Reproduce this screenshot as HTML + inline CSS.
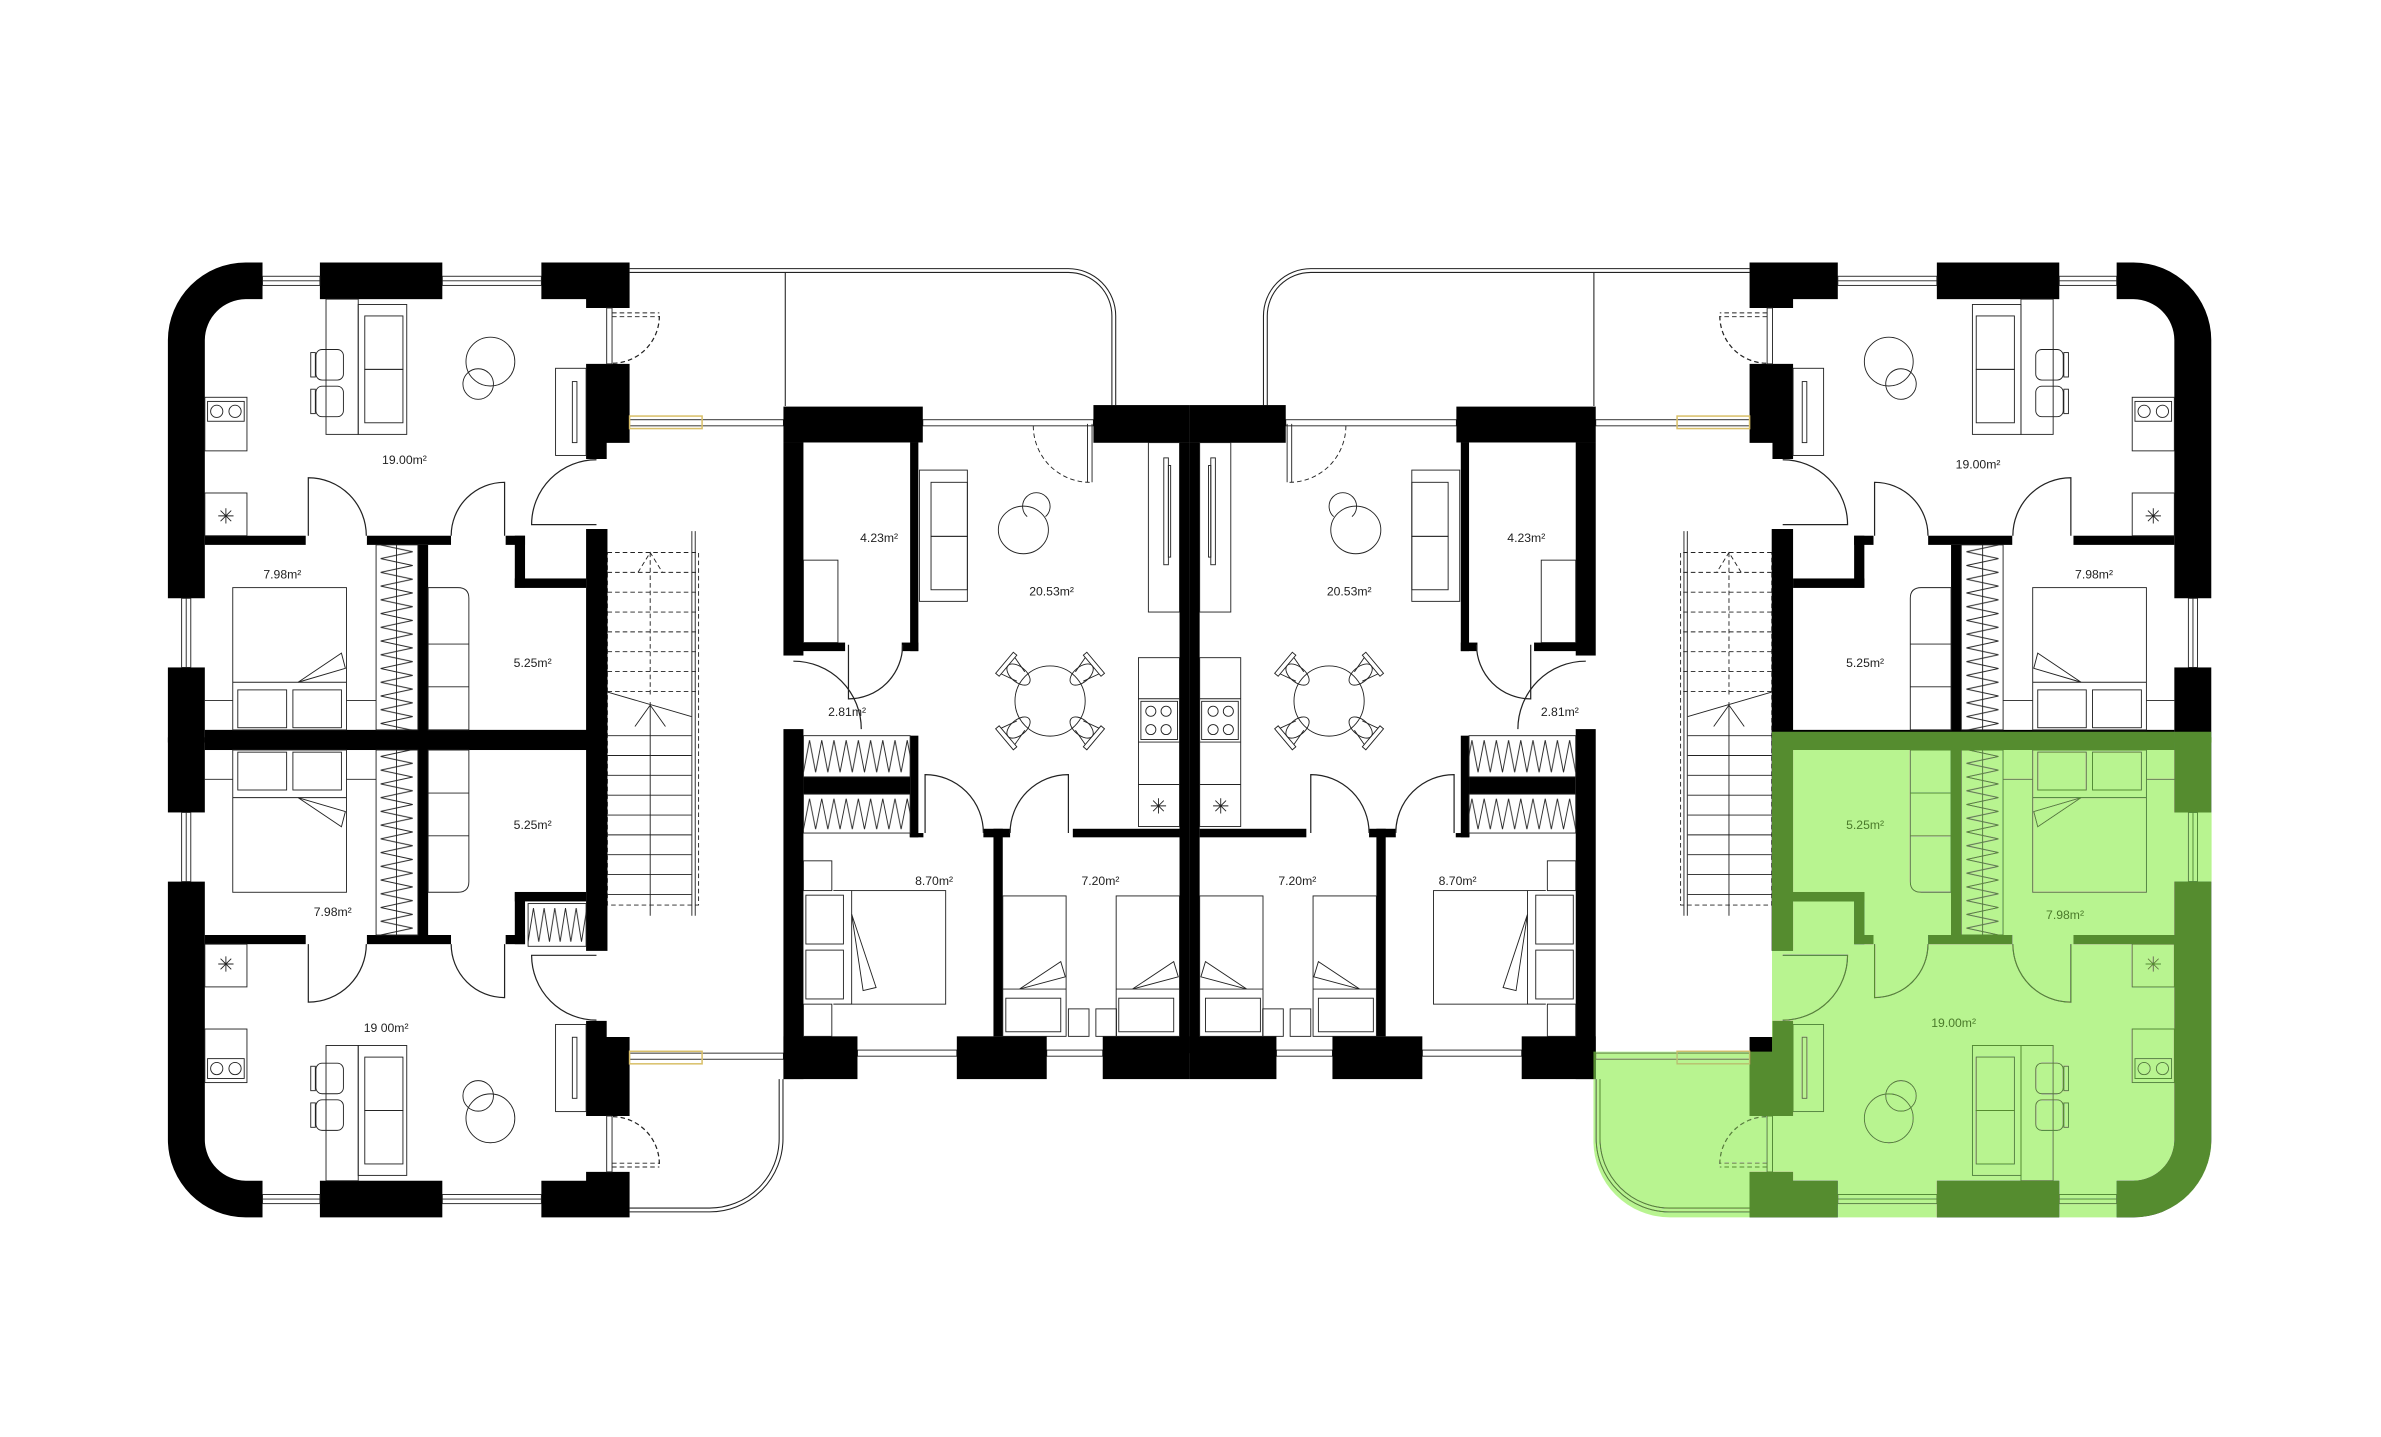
<!DOCTYPE html>
<html><head><meta charset="utf-8"><style>
html,body{margin:0;padding:0;background:#fff;}
svg{display:block;}
text{font-family:"Liberation Sans",sans-serif;font-size:8px;text-anchor:middle;fill:#222;}
</style></head><body>
<svg width="2381" height="1437" viewBox="0 0 1560 941.5" preserveAspectRatio="none" xmlns="http://www.w3.org/2000/svg">
<defs>
<pattern id="zv" patternUnits="userSpaceOnUse" x="246.4" y="357" width="27.4" height="9"><path d="M3,0 L24,4.5 L3,9" fill="none" stroke="#222" stroke-width="0.6"/></pattern>
<pattern id="zh1" patternUnits="userSpaceOnUse" x="526.4" y="482" width="8" height="27"><path d="M0,24 L4,3 L8,24" fill="none" stroke="#222" stroke-width="0.6"/></pattern>
<pattern id="zh2" patternUnits="userSpaceOnUse" x="526.4" y="520.3" width="8" height="25.5"><path d="M0,23 L4,3 L8,23" fill="none" stroke="#222" stroke-width="0.6"/></pattern>
<pattern id="zb" patternUnits="userSpaceOnUse" x="346" y="592" width="7" height="28"><path d="M0,25 L3.5,3 L7,25" fill="none" stroke="#222" stroke-width="0.6"/></pattern>
</defs>
<rect x="0" y="0" width="1560" height="941.5" fill="#fff"/>

<g id="half">
 <g id="quarter">
  <g fill="#000">
   <path d="M110,392 V222.8 A51,51 0 0 1 161,172 H172 V196 H161 A27,27 0 0 0 134.2,222.8 V392 Z"/>
   <rect x="209.6" y="172" width="80.2" height="24"/>
   <path d="M354.7,172 H412.5 V201.8 H384 V196 H354.7Z"/>
   <path d="M384,238.4 H412.5 V290.2 H397.5 V300.7 H384Z"/>
   <rect x="110" y="437.3" width="24.2" height="49.2"/>
   <rect x="134.2" y="351" width="66.1" height="6"/>
   <rect x="240.4" y="351" width="55.1" height="6"/>
   <rect x="331.3" y="351" width="12.7" height="6"/>
   <rect x="337.3" y="351" width="6.7" height="34"/>
   <rect x="337.3" y="379" width="46.7" height="6.2"/>
   <rect x="273.8" y="357" width="6.7" height="129.5"/>
   <rect x="134.2" y="478.2" width="263.8" height="8.3"/>
   <rect x="384" y="346.6" width="14" height="139.9"/>
  </g>
  <g fill="#fff" stroke="#222" stroke-width="0.6">
   <rect x="172" y="181" width="37.6" height="6"/><rect x="289.8" y="181" width="64.9" height="6"/>
   <rect x="119" y="392" width="6" height="45.3"/>
   <rect x="397.5" y="201.8" width="3.5" height="36.6"/>
  </g>
  <g fill="none" stroke="#222" stroke-width="0.6">
   <path d="M172,184 H209.6 M289.8,184 H354.7 M122,392 V437.3"/>
   <path d="M401,205 H432 M401,207.5 H432" stroke-dasharray="3,2"/>
   <path d="M432,207 A31,31 0 0 1 401,238" stroke-dasharray="3,2" stroke-width="0.8"/>
   <path d="M390.8,343.7 H348.3 A42.5,42.5 0 0 1 390.8,301.2" stroke-width="0.8"/>
   <path d="M202,351 V313 A38,38 0 0 1 240,351" stroke-width="0.8"/>
   <path d="M330.6,351 V316 A35,35 0 0 0 295.6,351" stroke-width="0.8"/>
   <rect x="364" y="241.3" width="20" height="57.1"/><rect x="375" y="250" width="3" height="40"/>
   <rect x="134.2" y="260.3" width="27.6" height="35.1"/><rect x="136" y="263" width="24" height="13"/>
   <circle cx="142" cy="269.5" r="4"/><circle cx="154" cy="269.5" r="4"/>
   <rect x="134.2" y="323" width="27.6" height="28"/>
   <path d="M143,338 H153 M148,333 V343 M144.5,334.5 L151.5,341.5 M151.5,334.5 L144.5,341.5"/>
   <rect x="213.6" y="196" width="21.1" height="88.6"/>
   <rect x="234.7" y="199.5" width="31.8" height="85.1"/>
   <rect x="239" y="207" width="25" height="35"/><rect x="239" y="242" width="25" height="35"/>
   <rect x="207" y="229" width="18" height="20" rx="4"/><rect x="203.6" y="231" width="3" height="16"/>
   <rect x="207" y="253" width="18" height="20" rx="4"/><rect x="203.6" y="255" width="3" height="16"/>
   <circle cx="321.3" cy="236.9" r="16"/><circle cx="313.3" cy="251.6" r="10"/>
   <rect x="152.5" y="385" width="74.5" height="93.2"/>
   <path d="M152.5,447 H227 M134.2,459 H152.5 M227,459 H246.4"/>
   <rect x="155.8" y="452" width="32" height="24.8"/><rect x="191.9" y="452" width="31.8" height="24.8"/>
   <polygon points="195.3,447 223.7,427.9 226.3,437.9"/>
   <rect x="246.4" y="357" width="27.4" height="121.2" fill="url(#zv)"/>
   <path d="M259.8,357 V478.2"/>
   <path d="M280.5,385 H300 Q307.2,385 307.2,392 V478.2 H280.5 Z M280.5,422 H307.2 M280.5,450 H307.2"/>
  </g>
 </g>
 <use href="#quarter" transform="matrix(1 0 0 -1 0 969.6)"/>
 <!-- stairs -->
 <g fill="none" stroke="#222" stroke-width="0.6">
  <rect x="398" y="362" width="59.7" height="231" stroke-dasharray="3,2"/>
  <path d="M398,375 H457 M398,388 H457 M398,401 H457 M398,414 H457 M398,427 H457 M398,440 H457 M398,453 H457" stroke-dasharray="3,2"/>
  <path d="M426,362 V455 M418,375 L426,362 L434,375" stroke-dasharray="3,2"/>
  <path d="M398,453.4 L453,469.5 M426,460 V600 M416,476 L426,462 L436,476"/>
  <path d="M398,482 H453 M398,495 H453 M398,508 H453 M398,521 H453 M398,534 H453 M398,547 H453 M398,560 H453 M398,573 H453 M398,586 H453"/>
  <path d="M453.3,348 V600 M455.5,348 V600"/>
 </g>
 <!-- balconies -->
 <g fill="none" stroke="#222" stroke-width="0.7">
  <path d="M412.5,176 H700 A31,31 0 0 1 731,207 V265.4"/>
  <path d="M412.5,178.5 H700 A28.5,28.5 0 0 1 728.5,207 V265.4"/>
  <path d="M514.5,178.5 V266"/>
  <path d="M412.5,794 H465 A48,48 0 0 0 513,746 V707"/>
  <path d="M412.5,791.5 H465 A45.5,45.5 0 0 0 510.5,746 V707"/>
 </g>
 <g fill="#fff" stroke="#222" stroke-width="0.6">
  <rect x="412.5" y="275" width="100.8" height="4"/>
  <rect x="412.5" y="690" width="100.8" height="4"/>
  <rect x="604.6" y="275" width="111.8" height="4"/>
  <rect x="561.8" y="688" width="65.1" height="4"/>
  <rect x="685.8" y="688" width="36.7" height="4"/>
 </g>
 <rect x="412.5" y="272.6" width="47.5" height="8.2" fill="none" stroke="#d9c06a" stroke-width="1"/>
 <rect x="412.5" y="688.8" width="47.5" height="8.2" fill="none" stroke="#d9c06a" stroke-width="1"/>
 <!-- central left half -->
 <g fill="#000">
  <rect x="513.3" y="266.4" width="91.3" height="23.5"/>
  <rect x="513.3" y="289.9" width="13.1" height="139.6"/>
  <rect x="596.3" y="289.9" width="5.4" height="136.7"/>
  <rect x="526" y="421" width="27.7" height="5.6"/>
  <rect x="590.8" y="421" width="10.9" height="5.6"/>
  <rect x="716.4" y="265.4" width="63" height="24.7"/>
  <rect x="772.8" y="290" width="6.6" height="400"/>
  <rect x="513.3" y="477.7" width="13.1" height="229.3"/>
  <rect x="596.3" y="482" width="5.4" height="66.6"/>
  <rect x="526.4" y="509" width="69.9" height="11.3"/>
  <rect x="596" y="545.8" width="9" height="2.8"/>
  <rect x="644.3" y="543" width="17.5" height="5.6"/>
  <rect x="650.9" y="543" width="6.1" height="136"/>
  <rect x="702.9" y="543" width="69.9" height="5.6"/>
  <rect x="513.3" y="679" width="48.5" height="28"/>
  <rect x="626.9" y="679" width="58.9" height="28"/>
  <rect x="722.5" y="679" width="56.9" height="28"/>
 </g>
 <g fill="none" stroke="#222" stroke-width="0.6">
  <path d="M712.5,277.7 V316 M715.5,277.7 V316"/>
  <path d="M677,279 A37,37 0 0 0 714,316" stroke-dasharray="3,2"/>
  <path d="M555.9,422.4 V457.9 A35.5,35.5 0 0 0 591.4,422.4" stroke-width="0.8"/>
  <path d="M519.8,433.2 A44.5,44.5 0 0 1 564.3,477.7" stroke-width="0.8"/>
  <path d="M606.1,545.8 V507.5 A38.2,38.2 0 0 1 644.3,545.8" stroke-width="0.8"/>
  <path d="M700,545.8 V507.5 A38.2,38.2 0 0 0 661.8,545.8" stroke-width="0.8"/>
  <rect x="526.4" y="367" width="22.6" height="54"/>
  <rect x="602.4" y="308" width="31.4" height="86"/>
  <rect x="610" y="316" width="23.8" height="35.4"/><rect x="610" y="351.4" width="23.8" height="35"/>
  <ellipse cx="670.5" cy="347.2" rx="16.4" ry="15.6"/>
  <path d="M673,338.5 A9,9 0 1 1 685,338.5"/>
  <circle cx="688" cy="459.3" r="23"/>
  <g transform="translate(688 459.3)">
   <g transform="rotate(-40) translate(-31 0)"><ellipse cx="4" cy="0" rx="9" ry="5"/><rect x="-8" y="-9" width="3" height="18"/><path d="M-5,-7 L6,-4 M-5,7 L6,4"/></g>
   <g transform="rotate(40) translate(-31 0)"><ellipse cx="4" cy="0" rx="9" ry="5"/><rect x="-8" y="-9" width="3" height="18"/><path d="M-5,-7 L6,-4 M-5,7 L6,4"/></g>
   <g transform="rotate(140) translate(-31 0)"><ellipse cx="4" cy="0" rx="9" ry="5"/><rect x="-8" y="-9" width="3" height="18"/><path d="M-5,-7 L6,-4 M-5,7 L6,4"/></g>
   <g transform="rotate(220) translate(-31 0)"><ellipse cx="4" cy="0" rx="9" ry="5"/><rect x="-8" y="-9" width="3" height="18"/><path d="M-5,-7 L6,-4 M-5,7 L6,4"/></g>
  </g>
  <rect x="745.9" y="430.9" width="26.9" height="110.6"/>
  <path d="M745.9,457.8 H772.8 M745.9,486.2 H772.8 M745.9,514 H772.8"/>
  <rect x="747.5" y="459.5" width="24" height="25"/>
  <circle cx="754" cy="466" r="3.3"/><circle cx="764" cy="466" r="3.3"/><circle cx="754" cy="478" r="3.3"/><circle cx="764" cy="478" r="3.3"/>
  <path d="M754,528 H764 M759,523 V533 M755.5,524.5 L762.5,531.5 M762.5,524.5 L755.5,531.5"/>
  <rect x="752.4" y="290" width="20.4" height="111"/>
  <rect x="762.5" y="300" width="3" height="70"/><rect x="765.5" y="305" width="1.5" height="60"/>
  <rect x="526.4" y="482" width="69.9" height="27" fill="url(#zh1)"/>
  <rect x="526.4" y="520.3" width="69.9" height="25.5" fill="url(#zh2)"/>
  <rect x="526.4" y="564" width="18.6" height="19.5"/>
  <rect x="526.4" y="657.9" width="18.6" height="21.1"/>
  <rect x="558" y="583.5" width="61.6" height="74.4"/>
  <path d="M546,583.5 H558 M546,657.9 H558"/>
  <rect x="528" y="586.5" width="24.6" height="32"/><rect x="528" y="622.5" width="24.6" height="32"/>
  <polygon points="558,599 574,647 565.5,649"/>
  <rect x="657" y="587" width="41.5" height="92"/>
  <path d="M657,648 H698.5"/><rect x="659" y="654" width="36" height="22"/>
  <polygon points="668,648 695,630 698,640"/>
  <rect x="731.3" y="587" width="41.5" height="92"/>
  <path d="M731.3,648 H772.8"/><rect x="733" y="654" width="36" height="22"/>
  <polygon points="742,648 769,630 772,640"/>
  <rect x="700" y="661" width="13.5" height="18"/><rect x="718" y="661" width="13.5" height="18"/>
 </g>
</g>
<use href="#half" transform="matrix(-1 0 0 1 1558.8 0)"/>
<!-- bottom-left closet (left wing only) -->
<rect x="346" y="592" width="38" height="28" fill="url(#zb)" stroke="#222" stroke-width="0.6"/>

<!-- green highlight -->
<path d="M1161,479.4 H1449 V746.6 A51,51 0 0 1 1398,797.6 H1094 A50,50 0 0 1 1044,747.6 V689 H1161 Z" fill="#558c2f" style="mix-blend-mode:lighten"/>
<path d="M1161,479.4 H1449 V746.6 A51,51 0 0 1 1398,797.6 H1094 A50,50 0 0 1 1044,747.6 V689 H1161 Z" fill="#b8f490" style="mix-blend-mode:darken"/>

<!-- labels -->
<text x="265" y="304">19.00m²</text>
<text x="185" y="379">7.98m²</text>
<text x="349" y="437">5.25m²</text>
<text x="349" y="543">5.25m²</text>
<text x="218" y="600">7.98m²</text>
<text x="253" y="676">19 00m²</text>
<text x="576" y="355">4.23m²</text>
<text x="689" y="390">20.53m²</text>
<text x="555" y="469">2.81m²</text>
<text x="612" y="580">8.70m²</text>
<text x="721" y="580">7.20m²</text>
<text x="884" y="390">20.53m²</text>
<text x="1000" y="355">4.23m²</text>
<text x="1022" y="469">2.81m²</text>
<text x="955" y="580">8.70m²</text>
<text x="850" y="580">7.20m²</text>
<text x="1296" y="307">19.00m²</text>
<text x="1372" y="379">7.98m²</text>
<text x="1222" y="437">5.25m²</text>
<text x="1222" y="543" style="fill:#4a7a2a">5.25m²</text>
<text x="1353" y="602" style="fill:#4a7a2a">7.98m²</text>
<text x="1280" y="673" style="fill:#4a7a2a">19.00m²</text>
</svg>
</body></html>
